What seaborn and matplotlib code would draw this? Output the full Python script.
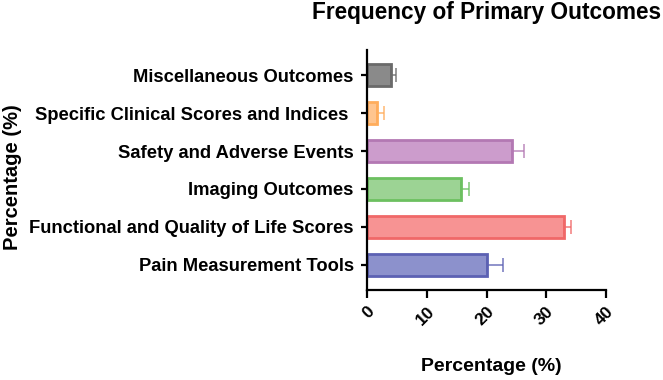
import numpy as np
import pandas as pd
import matplotlib
matplotlib.use("Agg")
import matplotlib.pyplot as plt
import seaborn as sns

categories = [
    "Miscellaneous Outcomes",
    "Specific Clinical Scores and Indices ",
    "Safety and Adverse Events",
    "Imaging Outcomes",
    "Functional and Quality of Life Scores",
    "Pain Measurement Tools",
]
values = [4.0, 1.7, 24.2, 15.8, 32.9, 20.1]
errors = [0.8, 1.2, 2.1, 1.2, 1.2, 2.7]
fill_colors = ["#8a8a8a", "#ffc58f", "#cc9ccc", "#9cd394", "#f79393", "#8c91cc"]
edge_colors = ["#6a6a6a", "#ffad5c", "#b378b3", "#6cc060", "#f06868", "#5c61b3"]
x_ticks = [0, 10, 20, 30, 40]

df = pd.DataFrame({"category": categories, "value": values})

sns.set_style("ticks")
plt.rcParams["font.family"] = ["Liberation Sans", "DejaVu Sans"]
plt.rcParams["font.weight"] = "bold"
for key in ["text.color", "axes.labelcolor", "xtick.color", "ytick.color"]:
    plt.rcParams[key] = "black"

fig = plt.figure(figsize=(6.63, 3.8), dpi=100)
ax = fig.add_axes([367 / 663, 1 - 290 / 380, 239 / 663, 240 / 380])

sns.barplot(data=df, x="value", y="category", hue="category", palette=fill_colors,
            orient="h", width=0.56, saturation=1, legend=False, ax=ax)

for patch, ec in zip(ax.patches, edge_colors):
    patch.set_edgecolor(ec)
    patch.set_linewidth(2)

# only the upper error arm is shown, as in the original
for i, (v, e, ec) in enumerate(zip(values, errors, edge_colors)):
    ax.errorbar(v, i, xerr=[[0], [e]], fmt="none", ecolor=ec, elinewidth=1.2,
                capsize=5, capthick=1.2, alpha=0.8)

ax.set_xlim(0, 40)
ax.set_ylim(5.66, -0.66)
ax.set_xticks(x_ticks)
ax.set_xticklabels([str(t) for t in x_ticks], rotation=45, ha="right",
                   rotation_mode="anchor", fontsize=12.5, fontweight="bold")
ax.set_yticks(range(len(categories)))
ax.set_yticklabels(categories, fontsize=13.2, fontweight="bold")

for side in ["top", "right"]:
    ax.spines[side].set_visible(False)
for side in ["left", "bottom"]:
    ax.spines[side].set_linewidth(1.6)
    ax.spines[side].set_color("black")
ax.tick_params(axis="x", length=6, width=1.6, pad=4)
ax.tick_params(axis="y", length=4.5, width=1.6, pad=5)

ax.set_xlabel("Percentage (%)", fontsize=14, fontweight="bold")
ax.xaxis.set_label_coords(0.519, -0.283)
ax.set_ylabel("Percentage (%)", fontsize=14.5, fontweight="bold", va="center")
ax.yaxis.set_label_coords(-1.485, 0.47)
ax.set_title("Frequency of Primary Outcomes", fontsize=16.3, fontweight="bold", pad=22)

fig.savefig("out.png", dpi=100)
